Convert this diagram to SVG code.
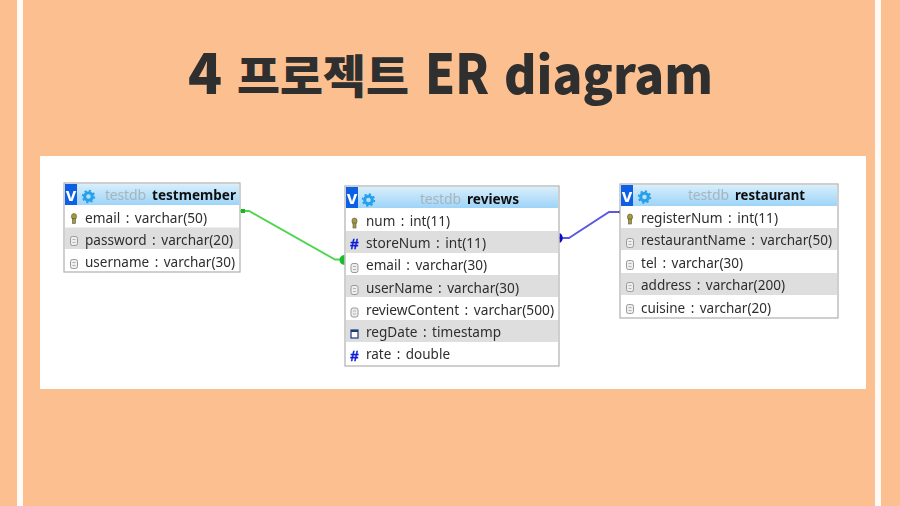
<svg xmlns="http://www.w3.org/2000/svg" width="900" height="506" viewBox="0 0 900 506">
<style>
.box{fill:#fff;stroke:#b0b0b0;stroke-width:1.2}
.hd{fill:url(#hg)}
.alt{fill:#dedede}
.vb{fill:#0b5fe3}
.v{font:900 19px "Liberation Sans",sans-serif;fill:#fff}
.db{font:14px "Noto Sans",sans-serif;fill:#a8b4bc}
.tn{font:bold 14px "Noto Sans",sans-serif;fill:#111}
.r{font:14px "Noto Sans",sans-serif;fill:#2e2e2e;word-spacing:2px}
.h{font:bold 15px "Liberation Sans",sans-serif;fill:#1020d8;stroke:#1020d8;stroke-width:.4}
.c{fill:#eee;stroke:#999;stroke-width:1}
.c2{stroke:#999;stroke-width:.7}
.k{fill:#a89a30;stroke:#555;stroke-width:.6}
.t{font-family:"Noto Sans CJK KR",sans-serif;font-weight:900;fill:#2f2f2f}
</style>
<defs>
<linearGradient id="hg" x1="0" y1="0" x2="0" y2="1"><stop offset="0" stop-color="#d8eefb"/><stop offset="1" stop-color="#9dd4f8"/></linearGradient>
<filter id="soft" x="-5%" y="-5%" width="110%" height="110%"><feGaussianBlur stdDeviation=".35"/></filter>
<g id="gear"><circle r="3.8" fill="none" stroke="#26a0ea" stroke-width="3"/><circle r="5.8" fill="none" stroke="#26a0ea" stroke-width="1.8" stroke-dasharray="2.2 2.3"/></g>
<g id="key"><ellipse cy="-2" rx="2.6" ry="3" class="k"/><rect x="-1.500" y="0" width="3" height="5" class="k"/></g>
<g id="col"><rect x="-3.500" y="-4.500" width="7" height="9" rx="2" class="c"/><path d="M-1.500-1.500h3M-1.500 1.500h3" class="c2"/></g>
<g id="vic"><rect width="12" height="21" class="vb"/><text x="6" y="16.500" text-anchor="middle" class="v">v</text></g>
</defs>
<rect width="900" height="506" fill="#fcc090"/>
<rect x="17" width="6" height="506" fill="#fff" opacity=".92"/>
<rect x="875" width="6" height="506" fill="#fff" opacity=".92"/>
<g id="title" class="t">
<text x="188" y="94" font-size="56">4</text>
<text x="237" y="93" font-size="46" textLength="172" lengthAdjust="spacingAndGlyphs">프로젝트</text>
<text x="425" y="94" font-size="55" textLength="64" lengthAdjust="spacingAndGlyphs">ER</text>
<text x="504" y="94" font-size="51" textLength="209" lengthAdjust="spacingAndGlyphs">diagram</text>
</g>
<rect id="card" x="40" y="156" width="826" height="233" fill="#fff"/>
<g filter="url(#soft)">
<g id="connectors" fill="none" stroke-width="2">
<path d="M240 211H249L335 259.500H344" stroke="#4fd64f"/>
<path d="M559 238H569L609 212H620" stroke="#5a5ae0"/>
<path d="M241 209h4v4h-4z" fill="#18b818" stroke="none"/>
<path d="M344.500 255a5 5 0 0 0 0 10z" fill="#18c028" stroke="none"/>
<path d="M559.500 233a5.500 5.500 0 0 1 0 10z" fill="#0808c8" stroke="none"/>
<path d="M620 210v4l-2-2z" fill="#3030d0" stroke="none"/>
</g>
<g id="testmember">
<rect x="64" y="183" width="176" height="89" class="box"/>
<rect x="65" y="184" width="174" height="21" class="hd"/>
<rect x="65" y="227.500" width="174" height="21.500" class="alt"/>
<use href="#vic" x="65" y="184"/><use href="#gear" x="88.500" y="196.500"/>
<text x="105" y="200" class="db" textLength="41">testdb</text>
<text x="152" y="200" class="tn" textLength="84" lengthAdjust="spacingAndGlyphs">testmember</text>
<use href="#key" x="74" y="218.500"/><use href="#col" x="74" y="241"/><use href="#col" x="74" y="264"/>
<text x="85" y="223" class="r" textLength="122" lengthAdjust="spacingAndGlyphs">email : varchar(50)</text>
<text x="85" y="245" class="r" textLength="148" lengthAdjust="spacingAndGlyphs">password : varchar(20)</text>
<text x="85" y="267" class="r" textLength="150" lengthAdjust="spacingAndGlyphs">username : varchar(30)</text>
</g>
<g id="reviews">
<rect x="345" y="186" width="214" height="180" class="box"/>
<rect x="346" y="187" width="212" height="21" class="hd"/>
<rect x="346" y="231" width="212" height="22" class="alt"/>
<rect x="346" y="275" width="212" height="22" class="alt"/>
<rect x="346" y="320" width="212" height="22" class="alt"/>
<use href="#vic" x="346" y="187"/><use href="#gear" x="368.500" y="200"/>
<text x="420" y="204" class="db" textLength="41">testdb</text>
<text x="467" y="204" class="tn" textLength="52" lengthAdjust="spacingAndGlyphs">reviews</text>
<use href="#key" x="354.500" y="223"/>
<text x="354.500" y="249" text-anchor="middle" class="h">#</text>
<use href="#col" x="354.500" y="268"/><use href="#col" x="354.500" y="290"/><use href="#col" x="354.500" y="312.500"/>
<rect x="351" y="330" width="7" height="8" fill="#fff" stroke="#1a3a7a" stroke-width="1.200"/><path d="M351 331h7" stroke="#1a3a7a" stroke-width="2"/>
<text x="354.500" y="361" text-anchor="middle" class="h">#</text>
<text x="366" y="226" class="r" textLength="84" lengthAdjust="spacingAndGlyphs">num : int(11)</text>
<text x="366" y="248" class="r" textLength="120" lengthAdjust="spacingAndGlyphs">storeNum : int(11)</text>
<text x="366" y="270" class="r" textLength="121" lengthAdjust="spacingAndGlyphs">email : varchar(30)</text>
<text x="366" y="293" class="r" textLength="153" lengthAdjust="spacingAndGlyphs">userName : varchar(30)</text>
<text x="366" y="315" class="r" textLength="188" lengthAdjust="spacingAndGlyphs">reviewContent : varchar(500)</text>
<text x="366" y="337" class="r" textLength="135" lengthAdjust="spacingAndGlyphs">regDate : timestamp</text>
<text x="366" y="359" class="r" textLength="84" lengthAdjust="spacingAndGlyphs">rate : double</text>
</g>
<g id="restaurant">
<rect x="620" y="184" width="218" height="134" class="box"/>
<rect x="621" y="185" width="216" height="21" class="hd"/>
<rect x="621" y="228" width="216" height="22" class="alt"/>
<rect x="621" y="273" width="216" height="22" class="alt"/>
<use href="#vic" x="621" y="185"/><use href="#gear" x="644.500" y="197"/>
<text x="688" y="200" class="db" textLength="41">testdb</text>
<text x="735" y="200" class="tn" textLength="70" lengthAdjust="spacingAndGlyphs">restaurant</text>
<use href="#key" x="630" y="219"/><use href="#col" x="630" y="243"/><use href="#col" x="630" y="265"/><use href="#col" x="630" y="287"/><use href="#col" x="630" y="309"/>
<text x="641" y="223" class="r" textLength="137" lengthAdjust="spacingAndGlyphs">registerNum : int(11)</text>
<text x="641" y="245" class="r" textLength="191" lengthAdjust="spacingAndGlyphs">restaurantName : varchar(50)</text>
<text x="641" y="268" class="r" textLength="102" lengthAdjust="spacingAndGlyphs">tel : varchar(30)</text>
<text x="641" y="290" class="r" textLength="144" lengthAdjust="spacingAndGlyphs">address : varchar(200)</text>
<text x="641" y="313" class="r" textLength="130" lengthAdjust="spacingAndGlyphs">cuisine : varchar(20)</text>
</g>
</g>
</svg>
